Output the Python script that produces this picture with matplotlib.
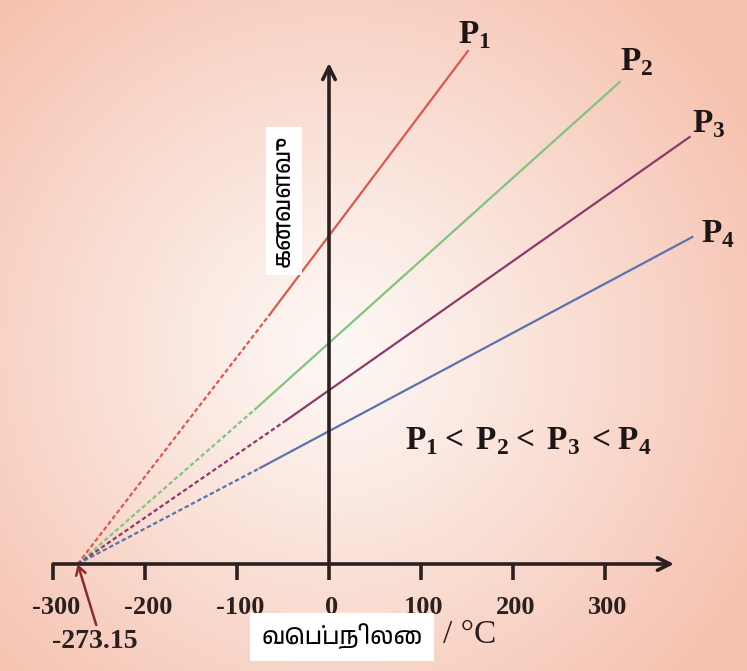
import numpy as np
import matplotlib
matplotlib.use("Agg")
import matplotlib.pyplot as plt
from matplotlib import font_manager

# temperatures (degC) where each line turns solid, and where it ends
pressures = ["P1", "P2", "P3", "P4"]
t_zero = -273.15
t_split = [-64, -80, -46, -75]
v_split = [50.0, 31.0, 28.8, 19.2]
t_end = [151, 316, 392, 395]
v_end = [102.6, 96.4, 85.4, 65.4]
colors = ["#d65a50", "#82c47e", "#8c3a6c", "#5c72ae"]

ticks = [-300, -200, -100, 0, 100, 200, 300]
tick_labels = ["-300", "-200", "-100", "0", "100", "200", "300"]

y_label = "கனவளவு"
x_label = "வெப்பநிலை"


def find_tamil_font():
    """Look for any installed font that has Tamil in its name"""
    for f in font_manager.fontManager.ttflist:
        if "tamil" in f.name.lower() or "latha" in f.name.lower():
            return f.name
    return None


def main():
    plt.rcParams["mathtext.fontset"] = "custom"
    plt.rcParams["mathtext.rm"] = "Liberation Serif"
    plt.rcParams["mathtext.bf"] = "Liberation Serif:bold"

    tamil = find_tamil_font()
    tamil_family = [tamil, "DejaVu Sans"] if tamil else ["DejaVu Sans"]

    fig = plt.figure(figsize=(7.47, 6.71), dpi=100)
    ax = fig.add_axes([0, 0, 1, 1])
    # 0.92 px per degree, 5 px per volume unit, origin at pixel (329, 564)
    ax.set_xlim(-329 / 0.92, (747 - 329) / 0.92)
    ax.set_ylim(-(671 - 564) / 5, 564 / 5)
    ax.axis("off")

    # peach radial background
    h, w = 671, 747
    yy, xx = np.mgrid[0:h, 0:w]
    r = np.hypot(xx - 335, yy - 320) / 470
    t = np.clip(r, 0, 1) ** 1.1
    inner = np.array([253, 248, 245]) / 255
    outer = np.array([246, 194, 176]) / 255
    img = inner + (outer - inner) * t[..., None]
    ax.imshow(img, extent=(*ax.get_xlim(), *ax.get_ylim()[::-1]),
              aspect="auto", zorder=0)
    ax.set_ylim(-(671 - 564) / 5, 564 / 5)

    # lines: dashed extrapolation then solid measured part
    for i in range(len(pressures)):
        ax.plot([t_zero, t_split[i]], [0, v_split[i]], color=colors[i],
                lw=1.6, ls=(0, (2, 1.2)), zorder=3)
        ax.plot([t_split[i], t_end[i]], [v_split[i], v_end[i]],
                color=colors[i], lw=1.6, zorder=3)

    axis_color = "#2b1f1f"
    arrow = "->,head_length=0.9,head_width=0.45"
    ax.annotate("", xy=(375, 0), xytext=(-300, 0),
                arrowprops=dict(arrowstyle=arrow, lw=2.6, color=axis_color,
                                shrinkA=0, shrinkB=0), zorder=4)
    ax.annotate("", xy=(0, 100.2), xytext=(0, 0),
                arrowprops=dict(arrowstyle=arrow, lw=2.6, color=axis_color,
                                shrinkA=0, shrinkB=0), zorder=4)
    for tk, lab in zip(ticks, tick_labels):
        ax.plot([tk, tk], [0, -3.2], color=axis_color, lw=2.6,
                solid_capstyle="butt", zorder=4)
        ax.text(tk + 3, -8.6, lab, ha="center", va="center", fontsize=19,
                family="Liberation Serif", weight="bold", color="#2b1f1f")

    # absolute zero marker
    ax.annotate("", xy=(t_zero, 0), xytext=(-253, -12.2),
                arrowprops=dict(arrowstyle="->,head_length=0.6,head_width=0.35",
                                lw=1.8, color="#8b2a2a", shrinkA=0, shrinkB=0),
                zorder=5)
    ax.text(-255, -15.6, "-273.15", ha="center", va="center", fontsize=20,
            family="Liberation Serif", weight="bold", color="#2b1f1f")

    # pressure labels
    label_pos = [(158, 105.8), (334, 100.4), (413, 88.0), (423, 66.0)]
    for i, (x, y) in enumerate(label_pos):
        ax.text(x, y, r"$\mathbf{P}_{\mathbf{%d}}$" % (i + 1), ha="center",
                va="center", fontsize=24, color="#1e1616")
    ax.text(217, 24.6,
            r"$\mathbf{P}_{\mathbf{1}}\mathbf{<}\,\mathbf{P}_{\mathbf{2}}"
            r"\mathbf{<}\,\mathbf{P}_{\mathbf{3}}\,\mathbf{<}\mathbf{P}_{\mathbf{4}}$",
            ha="center", va="center", fontsize=24, color="#1e1616")

    # axis titles in white boxes
    ax.text(-49, 72.6, y_label, rotation=90, ha="center", va="center",
            fontsize=17, family=tamil_family, color="black",
            bbox=dict(facecolor="white", edgecolor="none", pad=6), zorder=6)
    ax.text(14, -14.6, x_label, ha="center", va="center", fontsize=17,
            family=tamil_family, color="black",
            bbox=dict(facecolor="white", edgecolor="none", pad=8), zorder=6)
    ax.text(153, -14.2, "/ °C", ha="center", va="center", fontsize=24,
            family="Liberation Serif", color="#2b1f1f")

    fig.savefig("out.png", dpi=100)


if __name__ == "__main__":
    main()
